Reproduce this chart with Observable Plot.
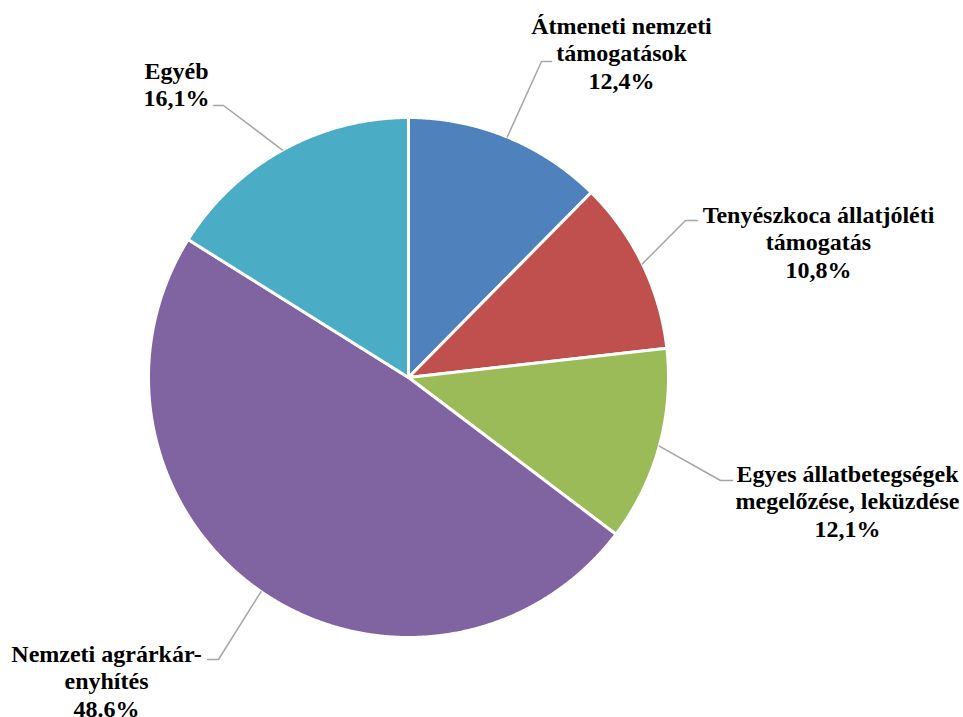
<!DOCTYPE html>
<html><head><meta charset="utf-8">
<script src="https://cdn.jsdelivr.net/npm/d3@7"></script>
<script src="https://cdn.jsdelivr.net/npm/@observablehq/plot@0.6"></script>
<style>html,body{margin:0;padding:0;background:#fff;overflow:hidden}
svg text, svg tspan{font-family:"Liberation Serif","Times New Roman",serif !important;}</style>
</head><body><div id="chart"></div>
<script>
// ---- data ----
const categories = [
  "Átmeneti nemzeti támogatások",
  "Tenyészkoca állatjóléti támogatás",
  "Egyes állatbetegségek megelőzése, leküzdése",
  "Nemzeti agrárkár-enyhítés",
  "Egyéb"
];
const shares = [12.4, 10.8, 12.1, 48.6, 16.1];
const valueLabels = ["12,4%", "10,8%", "12,1%", "48.6%", "16,1%"];
const labelLines = [
  ["Átmeneti nemzeti", "támogatások"],
  ["Tenyészkoca állatjóléti", "támogatás"],
  ["Egyes állatbetegségek", "megelőzése, leküzdése"],
  ["Nemzeti agrárkár-", "enyhítés"],
  ["Egyéb"]
];
const colors = ["#4F81BD", "#C0504D", "#9BBB59", "#8064A2", "#4BACC6"];

// ---- layout ----
const W = 963, H = 717, CX = 408, CY = 377, R = 260;
const LINE = 27.5;
// elbow of leader (ex,ey), end of horizontal tick (tx), text centre (cx) and first baseline (by)
const labelLayout = [
  {ex: 541, ey: 61, tx: 551, cx: 621, by: 33},
  {ex: 685, ey: 220, tx: 697, cx: 818, by: 222},
  {ex: 720, ey: 480, tx: 732, cx: 847, by: 481},
  {ex: 218, ey: 659, tx: 207, cx: 106, by: 661},
  {ex: 223, ey: 105, tx: 213, cx: 176, by: 78}
];

// ---- derived geometry ----
const pie = d3.pie().sort(null).value(d => d)(shares);
const pt = (a, r) => [CX + r * Math.sin(a), CY - r * Math.cos(a)];

const slicePts = [];
pie.forEach((p, i) => {
  const key = categories[i];
  slicePts.push({key, x: CX, y: CY});
  const n = Math.max(2, Math.ceil((p.endAngle - p.startAngle) / 0.005));
  for (let k = 0; k <= n; k++) {
    const a = p.startAngle + (p.endAngle - p.startAngle) * k / n;
    const [x, y] = pt(a, R);
    slicePts.push({key, x, y});
  }
  slicePts.push({key, x: CX, y: CY});
});

const leaderPts = [];
pie.forEach((p, i) => {
  const mid = (p.startAngle + p.endAngle) / 2;
  const [x0, y0] = pt(mid, R);
  const L = labelLayout[i];
  leaderPts.push({key: i, x: x0, y: y0});
  leaderPts.push({key: i, x: L.ex, y: L.ey});
  leaderPts.push({key: i, x: L.tx, y: L.ey});
});

const textRows = [];
labelLines.forEach((lines, i) => {
  const L = labelLayout[i];
  const all = [...lines, valueLabels[i]];
  all.forEach((t, j) => textRows.push({x: L.cx, y: L.by + j * LINE, text: t}));
});

const chart = Plot.plot({
  width: W, height: H,
  margin: 0,
  x: {domain: [0, W], range: [0, W], axis: null},
  y: {domain: [0, H], range: [0, H], axis: null},
  color: {domain: categories, range: colors},
  style: {background: "#fff", fontFamily: "Liberation Serif"},
  marks: [
    Plot.line(slicePts, {x: "x", y: "y", z: "key", fill: "key", stroke: "#fff", strokeWidth: 3, strokeLinejoin: "round", curve: "linear"}),
    Plot.line(leaderPts, {x: "x", y: "y", z: "key", stroke: "#A6A6A6", strokeWidth: 1.5, curve: "linear"}),
    Plot.text(textRows, {x: "x", y: "y", text: "text", lineAnchor: "bottom", textAnchor: "middle",
      fontSize: 24, fontWeight: "bold", fontFamily: "Liberation Serif", fill: "#000"})
  ]
});
document.getElementById("chart").appendChild(chart);
</script>
</body></html>
